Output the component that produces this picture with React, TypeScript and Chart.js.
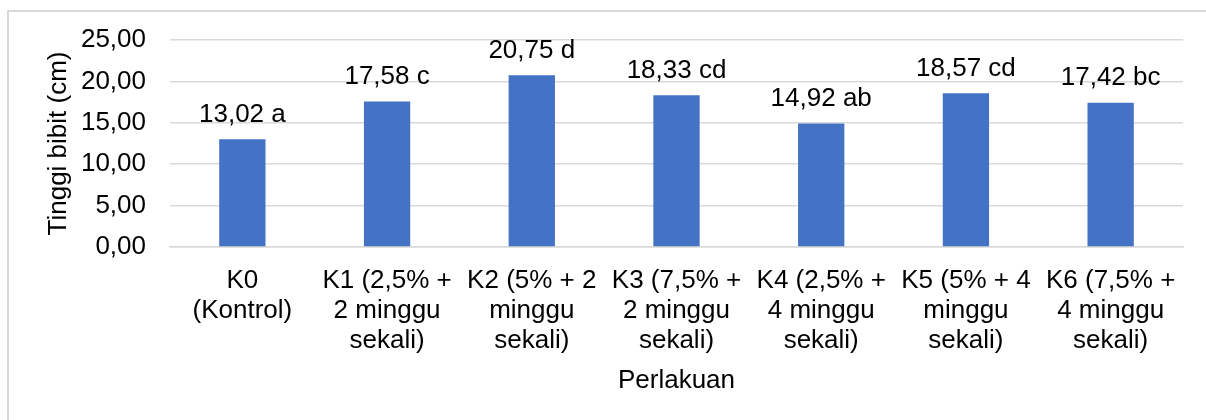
import React, { useEffect, useRef } from "react";
import { Chart, registerables } from "chart.js";

Chart.register(...registerables);

const categories: string[][] = [
  ["K0", "(Kontrol)"],
  ["K1 (2,5% +", "2 minggu", "sekali)"],
  ["K2 (5% + 2", "minggu", "sekali)"],
  ["K3 (7,5% +", "2 minggu", "sekali)"],
  ["K4 (2,5% +", "4 minggu", "sekali)"],
  ["K5 (5% + 4", "minggu", "sekali)"],
  ["K6 (7,5% +", "4 minggu", "sekali)"],
];
const heights: number[] = [13.02, 17.58, 20.75, 18.33, 14.92, 18.57, 17.42];
const letters: string[] = ["a", "c", "d", "cd", "ab", "cd", "bc"];
const yTitle = "Tinggi bibit (cm)";
const xTitle = "Perlakuan";

const FONT_FAMILY = "'Liberation Sans', Arial, sans-serif";
const FONT_SIZE = 26;

const fmt = (v: number) => v.toFixed(2).replace(".", ",");

const labelPlugin = {
  id: "barLabels",
  afterDatasetsDraw(chart: any) {
    const ctx = chart.ctx;
    const meta = chart.getDatasetMeta(0);
    ctx.save();
    ctx.font = `${FONT_SIZE}px ${FONT_FAMILY}`;
    ctx.fillStyle = "#000000";
    ctx.textAlign = "center";
    ctx.textBaseline = "alphabetic";
    meta.data.forEach((bar: any, i: number) => {
      ctx.fillText(`${fmt(heights[i])} ${letters[i]}`, bar.x, bar.y - 17.5);
    });
    ctx.restore();
  },
};

export default function App() {
  const ref = useRef<HTMLCanvasElement>(null);
  useEffect(() => {
    if (!ref.current) return;
    const font = { family: FONT_FAMILY, size: FONT_SIZE, lineHeight: "30px" };
    const chart = new Chart(ref.current, {
      type: "bar",
      data: {
        labels: categories,
        datasets: [
          {
            data: heights,
            backgroundColor: "#4472C4",
            borderWidth: 0,
            categoryPercentage: 1,
            barPercentage: 0.32,
          },
        ],
      },
      options: {
        animation: false,
        responsive: false,
        maintainAspectRatio: false,
        layout: { padding: { left: 0, right: 23, top: 40, bottom: 0 } },
        plugins: { legend: { display: false }, tooltip: { enabled: false } },
        scales: {
          x: {
            grid: { display: false, drawTicks: false },
            border: { color: "#D9D9D9", width: 1.5 },
            ticks: { color: "#000000", font, padding: 19, maxRotation: 0, minRotation: 0, autoSkip: false },
            title: { display: true, text: xTitle, color: "#000000", font, padding: { top: 0, bottom: 24.5 } },
            afterFit: (s: any) => {
              s.height = 173;
            },
          },
          y: {
            min: 0,
            max: 25,
            ticks: { stepSize: 5, color: "#000000", font, padding: 24, callback: (v: any) => fmt(Number(v)) },
            grid: { color: "#D9D9D9", lineWidth: 1.5, drawTicks: false },
            border: { display: false },
            title: { display: true, text: yTitle, color: "#000000", font, padding: { top: 44, bottom: 0 } },
            afterFit: (s: any) => {
              s.width = 170;
            },
          },
        },
      },
      plugins: [labelPlugin],
    });
    return () => chart.destroy();
  }, []);

  return (
    <div style={{ position: "fixed", left: 0, top: 0, width: 1206, height: 420, overflow: "hidden", background: "#ffffff" }}>
      <div
        style={{
          position: "absolute",
          left: 7,
          top: 10,
          width: 1300,
          height: 500,
          border: "2px solid #D9D9D9",
          boxSizing: "border-box",
        }}
      />
      <canvas ref={ref} width={1206} height={420} style={{ position: "absolute", left: 0, top: 0, width: 1206, height: 420 }} />
    </div>
  );
}
